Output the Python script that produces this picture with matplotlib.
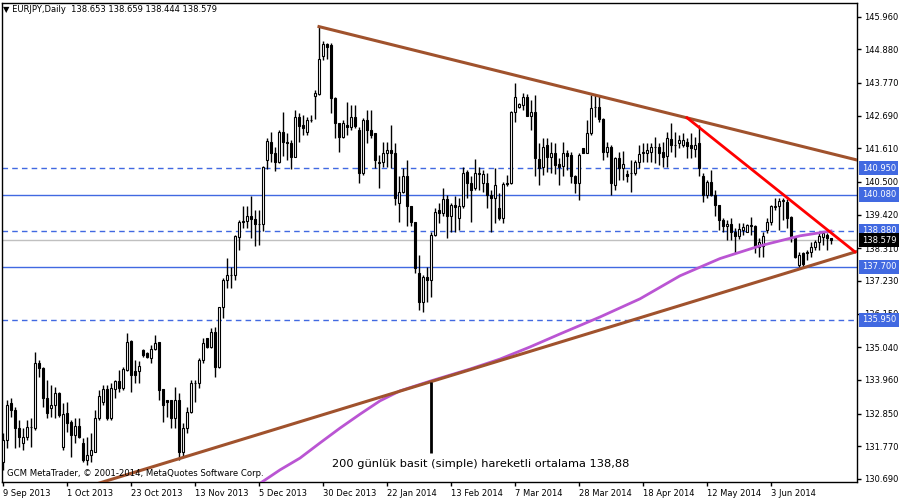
import matplotlib.pyplot as plt
import matplotlib.transforms as mtransforms
import numpy as np

# daily EURJPY bars, 9 Sep 2013 .. 24 Jun 2014
opens = [131.26, 131.98, 133.19, 132.97, 132.36, 131.87, 132.07, 132.42, 132.36, 134.53,
         134.35, 133.35, 133.02, 133.13, 133.54, 131.76, 132.86, 132.58, 132.14, 132.44,
         131.87, 131.32, 131.48, 131.59, 132.69, 133.24, 133.65, 132.69, 133.65, 133.91,
         133.69, 134.29, 135.26, 134.27, 134.24, 134.95, 134.84, 134.68, 134.97, 135.23,
         133.65, 133.30, 133.30, 132.69, 133.30, 131.59, 132.36, 132.91, 133.85, 133.85,
         134.62, 135.34, 135.06, 135.56, 134.40, 136.38, 137.26, 137.43, 137.43, 138.69,
         139.19, 139.22, 139.38, 139.27, 139.10, 139.12, 141.23, 141.83, 141.47, 141.17,
         142.14, 141.83, 141.78, 141.32, 142.66, 142.38, 142.16, 142.55, 143.34, 143.40,
         144.66, 145.06, 145.03, 143.26, 142.46, 142.00, 142.38, 142.31, 142.66, 142.22,
         140.79, 142.55, 142.22, 142.11, 141.12, 141.17, 141.45, 141.56, 141.45, 139.80,
         140.18, 140.68, 139.69, 139.19, 137.48, 136.55, 137.37, 137.26, 138.75, 139.58,
         139.49, 139.93, 139.36, 139.74, 139.30, 139.69, 140.84, 140.46, 140.29, 140.76,
         140.46, 140.48, 140.07, 139.96, 139.63, 139.30, 140.46, 140.46, 142.82, 142.99,
         143.04, 143.30, 142.68, 142.82, 141.25, 141.01, 141.72, 141.32, 141.45, 141.09,
         141.03, 141.45, 141.39, 140.70, 140.46, 141.61, 141.47, 142.11, 142.97, 142.97,
         142.57, 141.50, 141.67, 140.40, 141.28, 140.95, 140.76, 140.79, 140.79, 141.17,
         141.45, 141.47, 141.50, 141.64, 141.67, 141.50, 141.36, 141.91, 141.72, 141.78,
         141.72, 141.83, 141.72, 141.58, 141.78, 140.68, 140.07, 140.51, 140.07, 139.74,
         139.25, 139.03, 139.11, 138.84, 138.72, 138.92, 138.84, 139.08, 139.03, 138.36,
         138.39, 138.92, 139.19, 139.66, 139.69, 139.88, 139.85, 139.33, 138.64, 137.76,
         138.14, 138.14, 138.20, 138.34, 138.53, 138.68, 138.75, 138.653]
highs = [132.20, 133.30, 133.35, 133.08, 132.64, 132.36, 132.64, 132.69, 134.90, 134.62,
         134.40, 133.96, 133.79, 133.74, 133.57, 133.19, 133.24, 132.64, 132.69, 132.69,
         132.03, 132.09, 132.20, 132.97, 133.63, 133.79, 133.79, 133.85, 133.96, 134.29,
         134.40, 135.50, 135.28, 134.62, 134.57, 134.97, 134.90, 135.12, 135.45, 135.23,
         133.65, 133.30, 133.30, 133.74, 133.52, 132.53, 133.08, 133.96, 133.96, 134.68,
         135.34, 135.34, 135.67, 135.72, 136.38, 137.32, 137.98, 137.70, 138.74, 139.25,
         139.69, 139.69, 140.02, 139.58, 139.58, 141.03, 141.94, 142.16, 141.67, 142.22,
         142.82, 142.11, 141.89, 142.88, 142.77, 142.71, 142.66, 142.71, 143.54, 145.63,
         145.14, 145.10, 145.08, 143.32, 142.46, 142.55, 143.15, 143.04, 143.04, 142.33,
         142.60, 142.88, 142.88, 142.11, 141.39, 141.83, 141.83, 142.38, 141.78, 140.68,
         140.95, 141.23, 139.69, 139.19, 138.09, 137.43, 137.70, 138.86, 139.63, 139.80,
         140.29, 140.07, 139.80, 140.02, 139.96, 140.98, 140.90, 140.68, 141.25, 141.01,
         140.90, 140.79, 140.24, 140.95, 140.13, 140.51, 140.73, 142.85, 143.76, 143.10,
         143.43, 143.41, 143.21, 143.37, 141.78, 141.94, 141.94, 141.83, 141.78, 141.28,
         141.83, 141.56, 141.50, 140.73, 141.45, 141.61, 142.55, 143.37, 143.37, 143.37,
         142.60, 141.83, 141.72, 141.34, 141.50, 141.53, 140.90, 141.23, 141.23, 141.72,
         141.78, 141.78, 141.78, 142.00, 141.78, 141.83, 142.16, 142.44, 142.16, 142.05,
         142.11, 141.94, 142.11, 142.00, 142.38, 140.79, 140.57, 140.90, 140.24, 139.74,
         139.30, 139.25, 139.30, 138.97, 139.14, 139.14, 139.11, 139.33, 139.08, 138.64,
         138.86, 139.30, 139.74, 139.96, 139.96, 139.96, 139.93, 139.36, 138.70, 138.20,
         138.20, 138.26, 138.53, 138.59, 138.81, 138.86, 138.81, 138.659]
lows = [130.99, 131.70, 132.75, 131.70, 131.76, 131.65, 131.98, 131.76, 132.31, 134.07,
        133.08, 132.69, 132.75, 132.69, 132.75, 131.65, 132.25, 131.43, 131.87, 132.03,
        131.26, 131.15, 131.26, 131.59, 132.64, 133.13, 132.64, 132.64, 133.35, 133.57,
        133.64, 134.24, 133.57, 133.85, 133.85, 134.73, 134.68, 134.51, 134.95, 133.30,
        132.58, 132.75, 132.36, 132.36, 131.32, 131.43, 132.20, 132.86, 133.24, 133.68,
        134.51, 135.01, 135.01, 134.07, 134.35, 135.99, 136.99, 136.99, 137.26, 138.25,
        138.97, 138.97, 138.64, 138.39, 138.42, 138.89, 140.92, 141.17, 140.87, 141.12,
        141.36, 141.23, 140.92, 141.32, 141.83, 142.05, 142.05, 142.49, 142.57, 143.37,
        144.53, 144.55, 142.77, 141.94, 141.50, 141.94, 142.05, 142.22, 142.27, 140.46,
        140.73, 141.78, 141.94, 140.95, 140.29, 141.01, 141.01, 140.95, 139.74, 139.19,
        140.13, 139.03, 139.03, 137.48, 136.27, 136.22, 136.55, 136.71, 138.70, 139.14,
        139.36, 138.64, 138.86, 138.86, 138.92, 139.63, 139.96, 139.19, 140.24, 140.24,
        140.18, 139.63, 138.86, 139.14, 139.25, 139.14, 140.35, 140.44, 142.49, 142.93,
        142.88, 142.68, 142.20, 140.68, 140.40, 140.73, 140.84, 140.79, 140.76, 140.40,
        140.68, 140.90, 140.46, 140.13, 139.91, 141.45, 141.45, 142.05, 142.66, 142.49,
        141.23, 141.34, 140.07, 140.24, 140.57, 140.57, 140.51, 140.18, 140.73, 140.95,
        141.17, 141.17, 141.17, 141.12, 141.06, 141.01, 141.01, 141.50, 141.34, 141.61,
        141.67, 141.28, 141.28, 141.34, 140.68, 139.85, 139.96, 140.02, 139.36, 138.92,
        138.86, 138.59, 138.59, 138.14, 138.62, 138.75, 138.84, 138.75, 138.14, 138.03,
        138.03, 138.81, 139.08, 139.58, 138.92, 139.25, 138.97, 138.53, 137.98, 137.70,
        137.70, 137.92, 138.03, 138.26, 138.26, 138.42, 138.26, 138.444]
closes = [131.98, 133.13, 132.97, 132.36, 132.09, 132.09, 132.42, 132.40, 134.53, 134.35,
          133.35, 132.86, 133.13, 133.54, 132.80, 132.83, 132.53, 132.14, 132.44, 132.09,
          131.32, 131.48, 131.65, 132.69, 133.43, 133.65, 132.69, 133.69, 133.91, 133.69,
          134.31, 135.23, 134.13, 134.13, 134.42, 134.79, 134.73, 134.97, 135.19, 133.63,
          133.13, 133.24, 132.69, 133.30, 131.59, 132.36, 132.91, 133.85, 133.85, 134.61,
          135.17, 135.06, 135.56, 134.40, 136.38, 137.26, 137.43, 137.43, 138.71, 139.19,
          139.22, 139.36, 139.27, 139.10, 139.12, 141.01, 141.86, 141.47, 141.17, 142.14,
          141.83, 141.78, 141.32, 142.66, 142.35, 142.27, 142.55, 142.55, 143.45, 144.55,
          145.06, 144.97, 143.26, 142.44, 142.00, 142.44, 142.31, 142.66, 142.35, 140.79,
          142.55, 142.22, 142.05, 141.23, 141.17, 141.45, 141.56, 141.45, 139.96, 140.18,
          140.68, 139.69, 139.19, 137.65, 136.55, 137.37, 137.26, 138.75, 139.52, 139.49,
          139.93, 139.36, 139.74, 139.66, 139.69, 140.79, 140.46, 140.24, 140.79, 140.79,
          140.75, 140.07, 139.96, 140.40, 139.30, 140.42, 140.42, 142.82, 143.30, 143.08,
          143.30, 142.68, 142.82, 141.28, 140.95, 141.67, 141.32, 141.45, 141.06, 141.01,
          141.45, 141.36, 140.68, 140.46, 141.39, 141.47, 142.11, 142.93, 142.99, 142.57,
          141.50, 141.67, 140.46, 141.28, 140.95, 141.09, 140.68, 140.79, 141.17, 141.42,
          141.50, 141.56, 141.67, 141.64, 141.47, 141.34, 141.94, 141.72, 141.72, 141.89,
          141.89, 141.69, 141.61, 141.72, 140.95, 140.07, 140.51, 140.07, 139.74, 139.25,
          139.03, 139.11, 138.84, 138.72, 138.94, 139.00, 139.08, 139.03, 138.36, 138.53,
          138.72, 139.19, 139.69, 139.69, 139.88, 139.91, 139.30, 138.70, 138.03, 138.09,
          137.79, 138.20, 138.36, 138.53, 138.70, 138.81, 138.64, 138.579]

# 200 day simple moving average
ma_bar = [64.75, 69.25, 74.25, 79.25, 84.25, 89.25, 94.25, 99.25, 107, 116.75,
          124.25, 131.75, 139.25, 149.25, 159.25, 169.25, 179.25, 189.25, 199.25, 207]
ma_val = [130.59, 130.99, 131.38, 131.88, 132.37, 132.83, 133.27, 133.60, 133.93, 134.32,
          134.65, 135.05, 135.48, 136.04, 136.64, 137.40, 137.97, 138.39, 138.72, 138.88]

# trend lines (bar index, price)
upper_pts = ([79, 148], [145.63, 143.37])
lower_pts = ([45, 200], [131.40, 137.66])
red_pts = ([171, 213], [142.62, 138.19])

# horizontal levels
dashed_levels = [140.950, 138.880, 135.950]
solid_levels = [140.080, 137.700]
last_price = 138.579

y_ticks = [145.960, 144.880, 143.770, 142.690, 141.610, 140.500, 139.420, 138.310,
           137.230, 136.150, 135.040, 133.960, 132.850, 131.770, 130.690]
date_labels = ['9 Sep 2013', '1 Oct 2013', '23 Oct 2013', '13 Nov 2013', '5 Dec 2013',
               '30 Dec 2013', '22 Jan 2014', '13 Feb 2014', '7 Mar 2014', '28 Mar 2014',
               '18 Apr 2014', '12 May 2014', '3 Jun 2014']

blue = '#4169E1'
brown = '#A0522D'

fig = plt.figure(figsize=(9, 5), dpi=100)
ax = fig.add_axes([2 / 900, 18 / 500, 855 / 900, 479 / 500])
x_max = 213.5
ax.set_xlim(-0.25, x_max)
ax.set_ylim(130.59, 146.41)

# levels
for lv in dashed_levels:
    ax.axhline(lv, color=blue, lw=1, ls=(0, (4, 3)), zorder=1)
for lv in solid_levels:
    ax.axhline(lv, color=blue, lw=1, zorder=1)
ax.axhline(last_price, color='#C0C0C0', lw=1, zorder=1)

# candles
idx = np.arange(len(closes))
o = np.array(opens)
c = np.array(closes)
ax.vlines(idx, lows, highs, color='black', lw=1, zorder=2)
bottoms = np.minimum(o, c)
heights = np.maximum(np.abs(c - o), 0.005)
fills = ['white' if cc >= oo else 'black' for oo, cc in zip(o, c)]
ax.bar(idx, heights, bottom=bottoms, width=0.6, color=fills, edgecolor='black',
       linewidth=0.8, zorder=3)

# moving average
ax.plot(ma_bar, ma_val, color='#BA55D3', lw=2, zorder=4)

# trend lines
bx, by = upper_pts
slope = (by[1] - by[0]) / (bx[1] - bx[0])
ax.plot([bx[0], x_max], [by[0], by[0] + slope * (x_max - bx[0])], color=brown, lw=2.2, zorder=5)
bx, by = lower_pts
slope = (by[1] - by[0]) / (bx[1] - bx[0])
ax.plot([0, x_max], [by[0] - slope * bx[0], by[0] + slope * (x_max - bx[0])], color=brown, lw=2.2, zorder=5)
ax.plot(red_pts[0], red_pts[1], color='red', lw=2, zorder=5)

# marker for the moving average note
ax.vlines(107, 131.55, 133.90, color='black', lw=2, zorder=6)
ax.text(82.3, 131.19, '200 günlük basit (simple) hareketli ortalama 138,88',
        fontsize=8.2, va='center', ha='left', zorder=7)
ax.text(1, 130.86, 'GCM MetaTrader, © 2001-2014, MetaQuotes Software Corp.',
        fontsize=6.1, va='center', ha='left', zorder=7)
ax.text(0.0015, 0.986, '▼ EURJPY,Daily  138.653 138.659 138.444 138.579',
        transform=ax.transAxes, fontsize=6, va='center', ha='left', zorder=7)

# axes styling
ax.yaxis.tick_right()
ax.set_yticks(y_ticks)
ax.set_yticklabels(['%.3f' % v for v in y_ticks])
ax.set_xticks(range(0, 16 * len(date_labels), 16))
ax.set_xticklabels(date_labels, ha='left')
ax.tick_params(axis='both', labelsize=6, length=3, width=1, colors='black', pad=2)
for s in ax.spines.values():
    s.set_color('black')
    s.set_linewidth(1)

# highlighted price labels on the scale
trans = mtransforms.blended_transform_factory(ax.transAxes, ax.transData)
for lv in dashed_levels + solid_levels:
    ax.text(1.0055, lv, '%.3f' % lv, transform=trans, fontsize=6, color='white',
            va='center', ha='left', clip_on=False, zorder=10,
            bbox=dict(boxstyle='square,pad=0.32', fc=blue, ec='none'))
ax.text(1.0055, last_price, '%.3f' % last_price, transform=trans, fontsize=6, color='white',
        va='center', ha='left', clip_on=False, zorder=10,
        bbox=dict(boxstyle='square,pad=0.32', fc='black', ec='none'))

fig.savefig('out.png', dpi=100)
